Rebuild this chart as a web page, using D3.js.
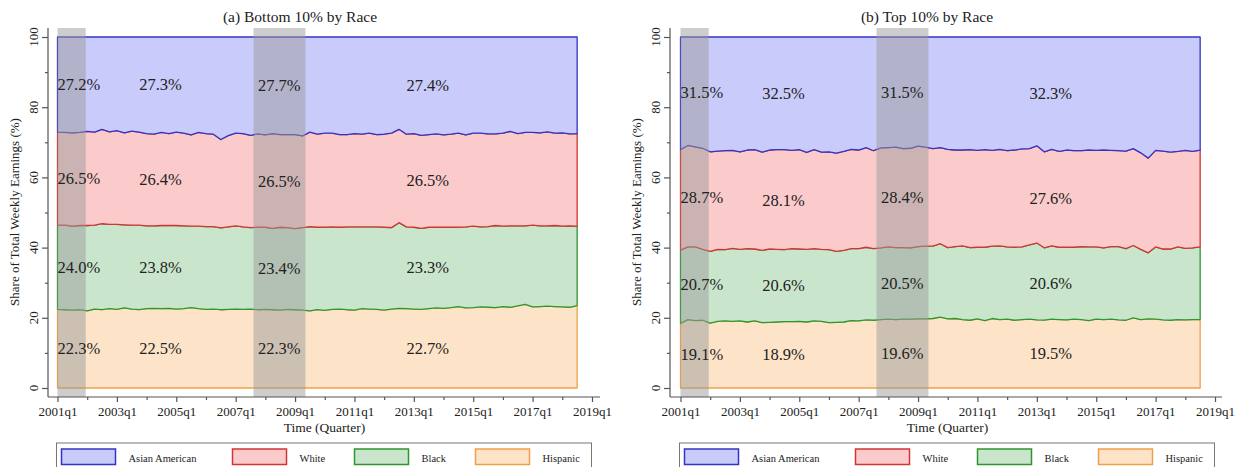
<!DOCTYPE html>
<html><head><meta charset="utf-8">
<script src="https://cdn.jsdelivr.net/npm/d3@7"></script>
<style>
body{margin:0;background:#fff}
svg text{font-family:"Liberation Serif","Times New Roman",serif;fill:#222}
</style>
</head><body>
<svg id="c" width="1243" height="467"></svg>
<script>
// ---------- DATA ----------
const quarters = [
"2001q1","2001q2","2001q3","2001q4","2002q1","2002q2","2002q3","2002q4","2003q1","2003q2","2003q3","2003q4",
"2004q1","2004q2","2004q3","2004q4","2005q1","2005q2","2005q3","2005q4","2006q1","2006q2","2006q3","2006q4",
"2007q1","2007q2","2007q3","2007q4","2008q1","2008q2","2008q3","2008q4","2009q1","2009q2","2009q3","2009q4",
"2010q1","2010q2","2010q3","2010q4","2011q1","2011q2","2011q3","2011q4","2012q1","2012q2","2012q3","2012q4",
"2013q1","2013q2","2013q3","2013q4","2014q1","2014q2","2014q3","2014q4","2015q1","2015q2","2015q3","2015q4",
"2016q1","2016q2","2016q3","2016q4","2017q1","2017q2","2017q3","2017q4","2018q1","2018q2","2018q3"];
const seriesNames = ["Hispanic","Black","White","Asian American"];
const xTickLabels = ["2001q1","2003q1","2005q1","2007q1","2009q1","2011q1","2013q1","2015q1","2017q1","2019q1"];
const xMinorLabels = ["2002q1","2004q1","2006q1","2008q1","2010q1","2012q1","2014q1","2016q1","2018q1"];
const yTicks = [0,20,40,60,80,100];
const yMinorTicks = [10,30,50,70,90];
// recessions (start, end) in quarters
const recessions = [["2001q1","2001q4",0.8],["2007q3","2009q2",0.4]];

// (a) Bottom 10% shares (%)
const botHispanic = [22.4,22.3,22.2,22.3,
 22.0,22.5,22.3,22.6,22.4,22.8,22.5,22.3,22.6,22.7,22.6,22.7,22.5,22.6,22.9,22.6,22.4,22.5,22.3,22.4,22.5,22.4,22.5,
 22.3,22.4,22.3,22.2,22.4,22.3,22.2,
 22.0,22.3,22.1,22.4,22.5,22.3,22.2,22.6,22.5,22.4,22.2,22.5,22.7,22.6,22.5,22.4,22.6,22.8,22.7,22.9,
 23.2,22.8,22.9,23.1,23.0,22.9,23.2,23.0,23.4,23.8,23.1,23.2,23.3,23.2,23.1,23.0,23.5];
const botBlack = [24.0,24.1,23.9,24.0,
 24.3,23.9,24.5,24.0,24.2,23.7,23.9,24.1,23.6,23.5,23.7,23.6,23.8,23.6,23.2,23.5,23.6,23.5,23.3,23.5,23.7,23.5,23.2,
 23.5,23.4,23.2,23.6,23.3,23.1,23.5,
 24.0,23.5,23.7,23.5,23.3,23.6,23.7,23.3,23.4,23.5,23.6,23.2,24.4,23.3,23.3,23.1,23.2,23.0,23.1,22.9,
 22.6,23.1,23.2,22.8,23.0,23.4,22.9,23.2,22.8,22.4,23.3,23.0,22.9,23.1,23.0,23.2,22.6];
const botWhite = [26.5,26.4,26.6,26.5,
 26.8,26.5,26.9,26.4,26.7,26.2,26.8,26.5,26.3,26.1,26.5,26.2,26.6,26.4,26.0,26.7,26.5,26.3,25.2,26.0,26.4,26.6,26.3,
 26.6,26.3,27.0,26.4,26.5,26.8,26.1,
 26.9,26.5,26.8,26.7,26.4,26.3,26.6,26.4,26.7,26.3,26.5,26.9,26.6,26.4,26.7,26.5,26.4,26.6,26.3,26.5,
 26.8,26.2,26.5,26.7,26.4,26.1,26.5,26.9,26.3,26.6,26.4,26.5,26.8,26.3,26.6,26.2,26.4];
const botAsian = [27.1,27.2,27.3,27.2,
 26.9,27.1,26.3,27.0,26.7,27.3,26.8,27.1,27.5,27.7,27.2,27.5,27.1,27.4,27.9,27.2,27.5,27.7,29.2,28.1,27.4,27.5,28.0,
 27.6,27.9,27.5,27.8,27.8,27.8,28.2,
 27.1,27.7,27.4,27.4,27.8,27.8,27.5,27.7,27.4,27.8,27.7,27.4,26.3,27.7,27.5,28.0,27.8,27.6,27.9,27.7,
 27.4,27.9,27.4,27.4,27.6,27.6,27.4,26.9,27.5,27.2,27.2,27.3,27.0,27.4,27.3,27.6,27.5];

// (b) Top 10% shares (%)
const topHispanic = [18.4,19.5,19.2,19.3,
 18.5,19.0,19.1,19.0,19.1,18.8,19.1,18.6,18.7,18.8,18.9,18.9,19.0,18.8,19.1,19.0,18.6,18.7,18.8,19.2,19.1,19.4,19.3,
 19.5,19.6,19.5,19.6,19.6,19.7,19.7,
 19.8,20.2,19.7,19.8,19.5,19.3,19.7,19.2,19.8,19.5,19.6,19.3,19.5,19.6,19.4,19.5,19.6,19.5,19.4,19.6,
 19.5,19.2,19.6,19.5,19.6,19.4,19.3,20.0,19.5,19.7,19.6,19.4,19.3,19.5,19.4,19.5,19.5];
const topBlack = [20.9,20.7,21.0,20.2,
 20.4,20.5,20.3,20.8,20.4,20.9,20.5,20.6,20.9,20.7,20.5,20.8,20.6,20.7,20.6,20.5,20.8,20.2,20.4,20.5,20.6,20.7,20.4,
 20.4,20.6,20.5,20.4,20.3,20.6,20.7,
 20.6,20.9,20.3,20.5,21.0,20.7,20.4,20.9,20.6,21.0,20.6,20.8,20.7,21.2,21.9,20.8,20.9,20.6,20.7,20.5,
 20.8,21.0,20.6,20.4,20.7,20.9,20.4,20.6,20.0,18.8,20.6,20.2,20.3,20.7,20.4,20.4,20.7];
const topWhite = [28.6,28.9,28.5,28.8,
 28.4,28.0,28.2,27.9,27.8,28.1,28.3,28.0,28.2,28.4,28.5,28.0,28.3,27.6,28.2,27.7,27.9,28.0,28.2,28.3,28.1,28.4,27.9,
 28.5,28.3,28.6,28.2,28.4,28.6,28.2,
 27.8,27.4,28.0,27.5,27.3,27.9,27.6,27.8,27.3,27.5,27.4,27.7,27.9,27.4,27.7,27.6,27.5,27.3,27.7,27.5,
 27.3,27.6,27.5,27.9,27.4,27.3,27.8,27.6,27.5,27.0,27.5,27.9,27.6,27.2,27.9,27.5,27.6];
const topAsian = [32.1,30.9,31.3,31.7,
 32.7,32.5,32.4,32.3,32.7,32.2,32.1,32.8,32.2,32.1,32.1,32.3,32.1,32.9,32.1,32.8,32.7,33.1,32.6,32.0,32.2,31.5,32.4,
 31.6,31.5,31.4,31.8,31.7,31.1,31.4,
 31.8,31.5,32.0,32.2,32.2,32.1,32.3,32.1,32.3,32.0,32.4,32.2,31.9,31.8,31.0,33.0,32.0,32.6,32.2,32.4,
 32.4,32.2,32.3,32.2,32.3,32.4,32.5,31.8,33.0,34.5,32.3,32.5,32.8,32.6,32.3,32.6,32.2];

// period average labels: [2001 recession, 2002-2007 expansion, 2007-09 recession, 2009-2018 expansion]
const labelAnchors = ["2001q1","2003q4","2007q4","2012q4"];
const botLabels = {"Hispanic":[22.3,22.5,22.3,22.7],"Black":[24.0,23.8,23.4,23.3],"White":[26.5,26.4,26.5,26.5],"Asian American":[27.2,27.3,27.7,27.4]};
const topLabels = {"Hispanic":[19.1,18.9,19.6,19.5],"Black":[20.7,20.6,20.5,20.6],"White":[28.7,28.1,28.4,27.6],"Asian American":[31.5,32.5,31.5,32.3]};

// ---------- STYLE ----------
const fillC = {"Asian American":"#c9cbfa","White":"#fbcaca","Black":"#c9e6cc","Hispanic":"#fde4c9"};
const lineC = {"Asian American":"#3434c4","White":"#d23434","Black":"#2e962e","Hispanic":"#f0a04a"};
const legendOrder = ["Asian American","White","Black","Hispanic"];
const legendOffsets = [5,176,298,419];

const svg = d3.select("#c");
const qIndex = q => { const y=+q.slice(0,4), k=+q.slice(5); return (y-2001)*4 + (k-1); };

function panel(opts){
  const {axisX, x0, title, titleX, data, labels} = opts;
  const g = svg.append("g");
  const x = d3.scaleLinear().domain([0,72]).range([x0, x0+534.5]);
  const y = d3.scaleLinear().domain([0,100]).range([388,37]);
  const top = 28, bottom = 397;

  const rows = quarters.map((q,i)=>{
    const r = {q:qIndex(q)};
    seriesNames.forEach(s=>{ r[s] = data[s][i]; });
    return r;
  });
  const stack = d3.stack().keys(seriesNames).offset(d3.stackOffsetExpand)(rows);
  const area = d3.area().x(d=>x(d.data.q)).y0(d=>y(d[0]*100)).y1(d=>y(d[1]*100));

  stack.forEach(layer=>{
    g.append("path").attr("d", area(layer))
      .attr("fill", fillC[layer.key]).attr("stroke", lineC[layer.key])
      .attr("stroke-width",1.3).attr("stroke-linejoin","round");
  });

  // recession bands
  recessions.forEach(([a,b,extra],i)=>{
    const xa = x(qIndex(a) + (i===1?0.4:0)), xb = x(qIndex(b) + extra);
    g.append("rect").attr("x",xa).attr("y",top).attr("width",xb-xa).attr("height",bottom-top)
      .attr("fill","#9c9c9c").attr("fill-opacity",0.5);
  });

  // percent labels
  seriesNames.forEach((s,k)=>{
    labels[s].forEach((v,p)=>{
      let below = 0;
      for (let j=0;j<k;j++) below += labels[seriesNames[j]][p];
      const c = below + v/2;
      g.append("text").attr("x", x(qIndex(labelAnchors[p]))).attr("y", y(c)+5.5)
        .attr("font-size",16.5).attr("text-anchor","start").text(v.toFixed(1)+"%");
    });
  });

  // axes lines
  const axC = "#555";
  g.append("line").attr("x1",axisX).attr("x2",axisX).attr("y1",top).attr("y2",bottom).attr("stroke",axC).attr("stroke-width",1.2);
  g.append("line").attr("x1",axisX).attr("x2",axisX+552).attr("y1",bottom).attr("y2",bottom).attr("stroke",axC).attr("stroke-width",1.2);

  // x axis
  const xa = g.append("g").attr("transform",`translate(0,${bottom})`)
    .call(d3.axisBottom(x).tickValues(xTickLabels.map(qIndex)).tickSize(5).tickSizeOuter(0)
      .tickFormat((d,i)=>xTickLabels[i]));
  xa.select(".domain").remove();
  xa.selectAll("line").attr("stroke",axC).attr("stroke-width",1.2);
  xa.selectAll("text").attr("font-size",13).attr("font-family",null).attr("fill","#222").attr("dy",null).attr("y",19);
  const xm = g.append("g").attr("transform",`translate(0,${bottom})`)
    .call(d3.axisBottom(x).tickValues(xMinorLabels.map(qIndex)).tickSize(3).tickSizeOuter(0).tickFormat(""));
  xm.select(".domain").remove();
  xm.selectAll("line").attr("stroke",axC).attr("stroke-width",1.2);

  // y axis
  const ya = g.append("g").attr("transform",`translate(${axisX},0)`)
    .call(d3.axisLeft(y).tickValues(yTicks).tickSize(6).tickSizeOuter(0).tickFormat(""));
  ya.select(".domain").remove();
  ya.selectAll("line").attr("stroke",axC).attr("stroke-width",1.2);
  const ym = g.append("g").attr("transform",`translate(${axisX},0)`)
    .call(d3.axisLeft(y).tickValues(yMinorTicks).tickSize(3).tickSizeOuter(0).tickFormat(""));
  ym.select(".domain").remove();
  ym.selectAll("line").attr("stroke",axC).attr("stroke-width",1.2);
  yTicks.forEach(t=>{
    g.append("text").attr("transform",`translate(${axisX-10},${y(t)}) rotate(-90)`)
      .attr("text-anchor","middle").attr("font-size",13).text(t);
  });

  // axis titles
  g.append("text").attr("transform",`translate(${axisX-29},212) rotate(-90)`)
    .attr("text-anchor","middle").attr("font-size",13).text("Share of Total Weekly Earnings (%)");
  g.append("text").attr("x",(x0+x0+534)/2).attr("y",432).attr("text-anchor","middle")
    .attr("font-size",13.5).text("Time (Quarter)");
  g.append("text").attr("x",titleX).attr("y",22).attr("text-anchor","middle")
    .attr("font-size",15.5).text(title);

  // legend
  const lx = x0-1;
  g.append("rect").attr("x",lx).attr("y",443).attr("width",535).attr("height",40)
    .attr("fill","#fff").attr("stroke","#777").attr("stroke-width",1);
  legendOrder.forEach((s,i)=>{
    const sx = lx + legendOffsets[i];
    g.append("rect").attr("x",sx).attr("y",449).attr("width",54).attr("height",15.5)
      .attr("fill",fillC[s]).attr("stroke",lineC[s]).attr("stroke-width",1.5);
    g.append("text").attr("x",sx+67).attr("y",462).attr("font-size",10.5).text(s);
  });
}

panel({axisX:48, x0:57.5, title:"(a) Bottom 10% by Race", titleX:300,
  data:{"Hispanic":botHispanic,"Black":botBlack,"White":botWhite,"Asian American":botAsian}, labels:botLabels});
panel({axisX:670, x0:680.5, title:"(b) Top 10% by Race", titleX:927,
  data:{"Hispanic":topHispanic,"Black":topBlack,"White":topWhite,"Asian American":topAsian}, labels:topLabels});
</script>
</body></html>
